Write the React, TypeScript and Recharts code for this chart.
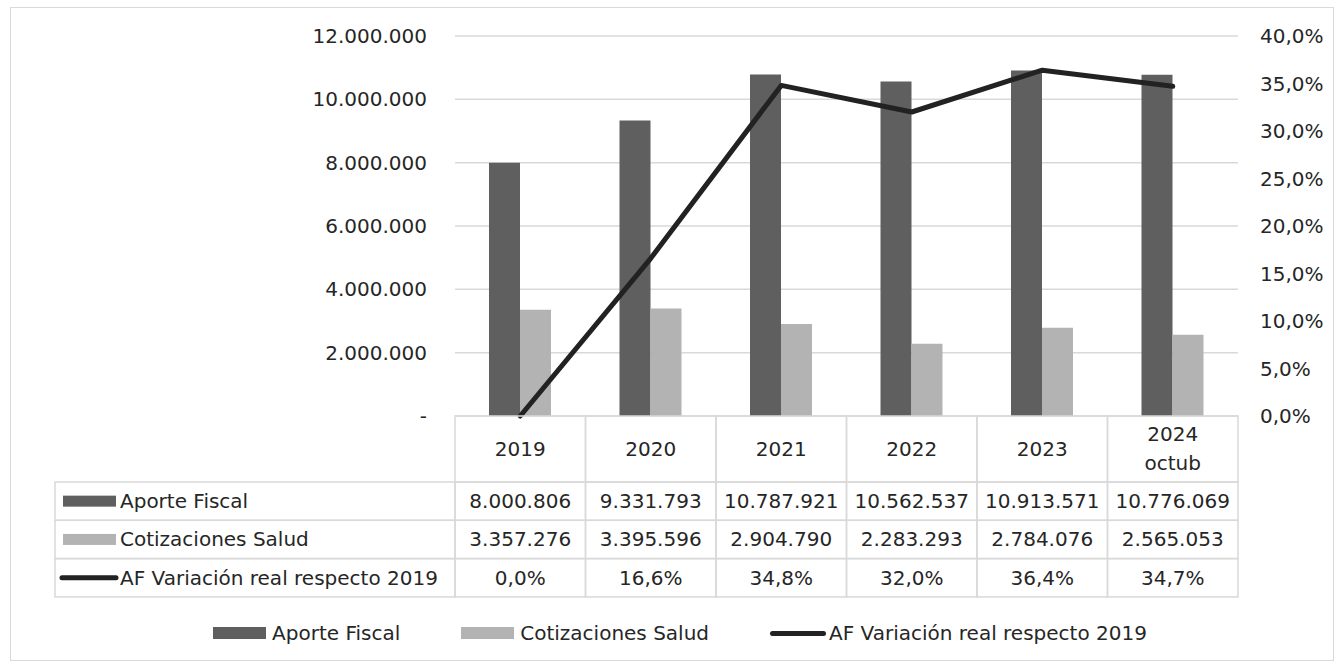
import React from 'react';
import { ComposedChart, Bar, Line, XAxis, YAxis, CartesianGrid, Legend } from 'recharts';

const categories = ['2019', '2020', '2021', '2022', '2023', '2024 octub'];
const aporteFiscal = [8000806, 9331793, 10787921, 10562537, 10913571, 10776069];
const cotizacionesSalud = [3357276, 3395596, 2904790, 2283293, 2784076, 2565053];
const variacionReal = [0.0, 16.6, 34.8, 32.0, 36.4, 34.7];

const leftTicks = [0, 2000000, 4000000, 6000000, 8000000, 10000000, 12000000];
const rightTicks = [0, 5, 10, 15, 20, 25, 30, 35, 40];

const seriesNames = ['Aporte Fiscal', 'Cotizaciones Salud', 'AF Variación real respecto 2019'];

const data = categories.map((year, i) => ({
  year,
  aporte: aporteFiscal[i],
  cotiz: cotizacionesSalud[i],
  variacion: variacionReal[i],
}));

const DARK = '#5f5f5f';
const LIGHT = '#b3b3b3';
const LINE = '#222222';
const GRID = '#d9d9d9';
const TEXT = '#262626';
const FONT = '"DejaVu Sans", sans-serif';

const W = 1342;
const H = 666;
const PLOT_LEFT = 455;
const PLOT_RIGHT = 1238;
const PLOT_TOP = 36;
const PLOT_BOTTOM = 416;
const COL_W = (PLOT_RIGHT - PLOT_LEFT) / categories.length;
const HEADER_H = 66;
const ROW_H = 38.3;
const LABEL_LEFT = 55;

const fmtNum = (v: number) =>
  v === 0 ? '-' : String(Math.round(v)).replace(/\B(?=(\d{3})+(?!\d))/g, '.');
const fmtPct = (v: number) => v.toFixed(1).replace('.', ',') + '%';

const rowValues = [
  aporteFiscal.map(fmtNum),
  cotizacionesSalud.map(fmtNum),
  variacionReal.map(fmtPct),
];

function RowIcon({ kind, y }: { kind: number; y: number }) {
  if (kind === 2) {
    return <line x1={62} x2={116} y1={y} y2={y} stroke={LINE} strokeWidth={5} strokeLinecap="round" />;
  }
  return <rect x={63} y={y - 5.5} width={53} height={11} fill={kind === 0 ? DARK : LIGHT} />;
}

// x axis ticks double as the data table under the plot
function TableTick(props: any) {
  const { x, index } = props;
  const left = x - COL_W / 2;
  const lines = categories[index].split(' ');
  const textProps = { fontFamily: FONT, fontSize: 20, fill: TEXT, textAnchor: 'middle' as const, dominantBaseline: 'central' as const };
  return (
    <g>
      {index === 0 &&
        seriesNames.map((name, r) => {
          const top = PLOT_BOTTOM + HEADER_H + r * ROW_H;
          return (
            <g key={name}>
              <rect x={LABEL_LEFT} y={top} width={left - LABEL_LEFT} height={ROW_H} fill="none" stroke={GRID} strokeWidth={1.5} />
              <RowIcon kind={r} y={top + ROW_H / 2} />
              <text x={120} y={top + ROW_H / 2} fontFamily={FONT} fontSize={20} fill={TEXT} dominantBaseline="central">
                {name}
              </text>
            </g>
          );
        })}
      <rect x={left} y={PLOT_BOTTOM} width={COL_W} height={HEADER_H} fill="none" stroke={GRID} strokeWidth={1.5} />
      {lines.length === 1 ? (
        <text x={x} y={PLOT_BOTTOM + HEADER_H / 2} {...textProps}>{lines[0]}</text>
      ) : (
        lines.map((l, k) => (
          <text key={k} x={x} y={PLOT_BOTTOM + 18 + k * 29} {...textProps}>{l}</text>
        ))
      )}
      {rowValues.map((vals, r) => {
        const top = PLOT_BOTTOM + HEADER_H + r * ROW_H;
        return (
          <g key={r}>
            <rect x={left} y={top} width={COL_W} height={ROW_H} fill="none" stroke={GRID} strokeWidth={1.5} />
            <text x={x} y={top + ROW_H / 2} {...textProps}>{vals[index]}</text>
          </g>
        );
      })}
    </g>
  );
}

function LegendContent() {
  const item = (kind: number, label: string, gapAfter: number) => (
    <span style={{ display: 'inline-flex', alignItems: 'center', marginRight: gapAfter }}>
      {kind === 2 ? (
        <span style={{ display: 'inline-block', width: 56, height: 5, borderRadius: 3, background: LINE, marginRight: 3 }} />
      ) : (
        <span style={{ display: 'inline-block', width: 53, height: 12, background: kind === 0 ? DARK : LIGHT, marginRight: 6 }} />
      )}
      <span>{label}</span>
    </span>
  );
  return (
    <div style={{ display: 'flex', justifyContent: 'center', fontFamily: FONT, fontSize: 20, color: TEXT, lineHeight: '26px', paddingLeft: 18 }}>
      {item(0, seriesNames[0], 61)}
      {item(1, seriesNames[1], 61)}
      {item(2, seriesNames[2], 0)}
    </div>
  );
}

export default function App() {
  return (
    <div style={{ position: 'absolute', left: 0, top: 0, width: W, height: H, background: '#fff' }}>
      <div style={{ position: 'absolute', left: 10, top: 7, width: 1322, height: 652, border: `1.5px solid ${GRID}` }} />
      <ComposedChart
        width={W}
        height={H}
        data={data}
        margin={{ top: PLOT_TOP, right: 0, bottom: 0, left: 0 }}
        barGap={0}
      >
        <CartesianGrid yAxisId="left" vertical={false} stroke={GRID} strokeWidth={1.5} />
        <XAxis
          dataKey="year"
          height={H - PLOT_BOTTOM}
          axisLine={false}
          tickLine={false}
          interval={0}
          tick={<TableTick />}
        />
        <YAxis
          yAxisId="left"
          width={PLOT_LEFT}
          domain={[0, 12000000]}
          ticks={leftTicks}
          tickFormatter={fmtNum}
          axisLine={false}
          tickLine={false}
          tickMargin={22}
          tick={{ fill: TEXT, fontSize: 20, fontFamily: FONT }}
        />
        <YAxis
          yAxisId="right"
          orientation="right"
          width={W - PLOT_RIGHT}
          domain={[0, 40]}
          ticks={rightTicks}
          tickFormatter={fmtPct}
          axisLine={false}
          tickLine={false}
          tickMargin={16}
          tick={{ fill: TEXT, fontSize: 20, fontFamily: FONT, textAnchor: 'start' }}
        />
        <Bar yAxisId="left" dataKey="aporte" name={seriesNames[0]} fill={DARK} barSize={31} isAnimationActive={false} />
        <Bar yAxisId="left" dataKey="cotiz" name={seriesNames[1]} fill={LIGHT} barSize={31} isAnimationActive={false} />
        <Line
          yAxisId="right"
          type="linear"
          dataKey="variacion"
          name={seriesNames[2]}
          stroke={LINE}
          strokeWidth={5}
          strokeLinecap="round"
          strokeLinejoin="round"
          dot={false}
          activeDot={false}
          isAnimationActive={false}
        />
        <Legend
          verticalAlign="middle"
          align="center"
          layout="horizontal"
          wrapperStyle={{ top: 620, left: 0, width: W }}
          content={<LegendContent />}
        />
      </ComposedChart>
    </div>
  );
}
